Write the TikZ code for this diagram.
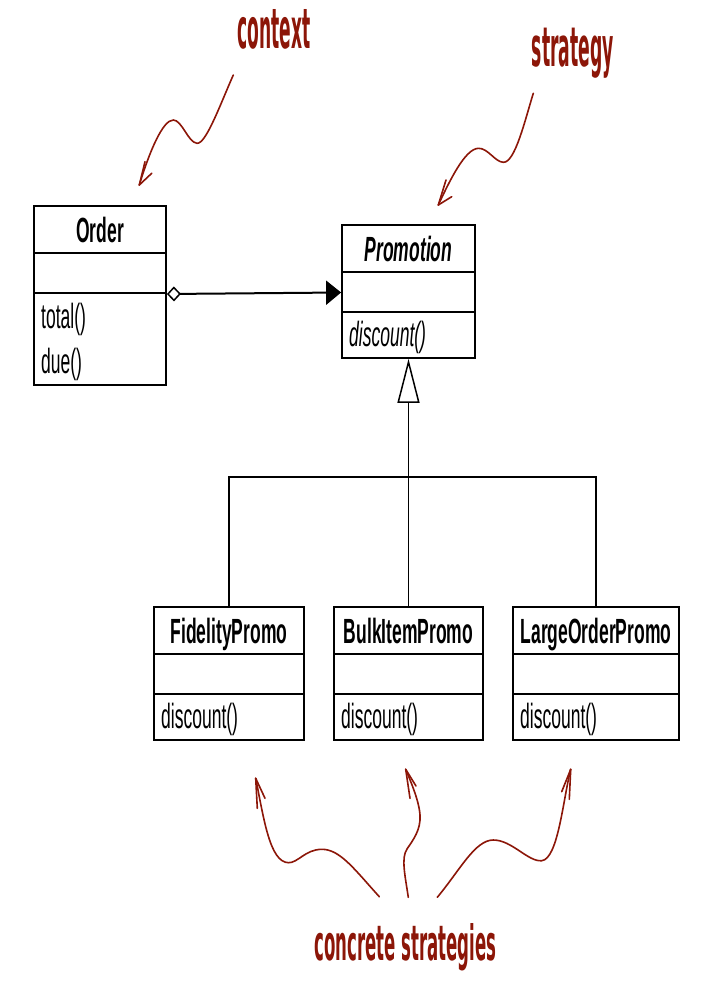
\documentclass[tikz,border=0pt]{standalone}
\usepackage{fontspec}
\setmainfont{Liberation Sans}
\newfontfamily\umlfont[FakeStretch=0.5]{Liberation Sans}
\newfontfamily\handfont{DejaVu Sans}
\usetikzlibrary{arrows.meta,fit}
\definecolor{handred}{RGB}{140,22,8}
\tikzset{
  classbox/.style={draw, line width=1.8pt, inner sep=0pt},
  divider/.style={line width=1.8pt},
  umltitle/.style={anchor=base, inner sep=0pt, font=\umlfont\fontsize{35}{40}\selectfont\bfseries},
  umlmeth/.style={anchor=base west, inner sep=0pt, font=\umlfont\fontsize{35}{40}\selectfont},
  note/.style={anchor=base west, inner sep=0pt, text=handred},
  squiggle/.style={draw=handred, line width=1.6pt, line cap=round, line join=round},
  assoc/.style={line width=2pt, {Diamond[open, length=14pt, width=15pt, line width=1.5pt]}-{Triangle[length=15pt, width=24pt]}},
  genline/.style={line width=1.2pt, -{Triangle[open, length=44pt, width=22pt, line width=1.5pt]}},
  busline/.style={line width=2pt},
  branch/.style={line width=1.2pt},
}
\newcommand\umlclass[8]{%
  \coordinate (#1-nw) at (#2,#3);
  \coordinate (#1-se) at (#4,#7);
  \node[classbox, fit=(#1-nw)(#1-se)] (#1) {};
  \draw[divider] (#2,#5) -- (#4,#5);
  \draw[divider] (#2,#6) -- (#4,#6);
  \node[umltitle] (#1-title) at ({(#2+#4)/2},{(#3+#5)/2+12.5}) {#8};
}
\begin{document}
\begin{tikzpicture}[x=1pt,y=-1pt]
\fill[white] (0,0) rectangle (715,982);
\useasboundingbox (0,0) rectangle (715,982);

% classes
\umlclass{order}{34}{206}{166}{253}{293}{385}{Order}
\node[umlmeth] (order-m1) at (41,328.3) {total()};
\node[umlmeth] (order-m2) at (41,373.3) {due()};

\umlclass{promotion}{342}{225}{475}{272}{312}{358}{\itshape Promotion}
\node[umlmeth] (promotion-m1) at (349,346.7) {\itshape discount()};

\umlclass{fidelity}{154}{607}{304}{654}{694}{740}{FidelityPromo}
\node[umlmeth] (fidelity-m1) at (161,728.5) {discount()};

\umlclass{bulk}{334}{607}{483}{654}{694}{740}{BulkItemPromo}
\node[umlmeth] (bulk-m1) at (341,728.5) {discount()};

\umlclass{large}{513}{607}{679}{654}{694}{740}{LargeOrderPromo}
\node[umlmeth] (large-m1) at (520,728.5) {discount()};

% association
\draw[assoc] ([yshift=1.5pt]order.east) -- ([yshift=-1pt]promotion.west);

% generalization
\coordinate (busmid) at (408.5,477);
\coordinate (busL) at (229,477);
\coordinate (busR) at (596,477);
\draw[genline] (busmid) -- (promotion.south);
\draw[busline] ([xshift=-1pt]busL) -- ([xshift=1pt]busR);
\draw[branch] (fidelity.north) -- (fidelity.north |- busL);
\draw[branch] (bulk.north) -- (bulk.north |- busL);
\draw[branch] (large.north) -- (large.north |- busL);

% handwritten notes
\node[note] (ctx) at (237.3,48.3) {\resizebox{73pt}{39pt}{\handfont\bfseries context}};
\node[note] (strat) at (531.7,66.7) {\resizebox{82pt}{38.4pt}{\handfont\bfseries strategy}};
\node[note] (conc) at (314,960) {\resizebox{182pt}{37pt}{\handfont\bfseries concrete strategies}};

% squiggly arrows
\coordinate (ctx-start) at (233.3,75);
\coordinate (ctx-tip) at (139.3,185);
\draw[squiggle] (ctx-start) .. controls (220,105) and (206,144) .. (197,143.3)
  .. controls (188,142.5) and (182,120) .. (173.3,120)
  .. controls (163,120) and (150,150) .. (ctx-tip);
\draw[squiggle] (ctx-tip) -- (145,161.7);
\draw[squiggle] (ctx-tip) -- (151.7,173.3);

\coordinate (str-start) at (533.3,93.3);
\coordinate (str-tip) at (438.3,205);
\draw[squiggle] (str-start) .. controls (525,120) and (515,163) .. (503.3,162.3)
  .. controls (495,162) and (488,148) .. (478.3,148.3)
  .. controls (465,149) and (450,180) .. (str-tip);
\draw[squiggle] (str-tip) -- (446,180);
\draw[squiggle] (str-tip) -- (451.7,196.7);

\coordinate (c1-start) at (379.3,896.7);
\coordinate (c1-tip) at (255.7,778.3);
\draw[squiggle] (c1-start) .. controls (355,870) and (340,849) .. (321.7,849.3)
  .. controls (305,849.5) and (298,863) .. (288.3,862.7)
  .. controls (270,862) and (264,820) .. (c1-tip);
\draw[squiggle] (c1-tip) -- (257.3,808.3);
\draw[squiggle] (c1-tip) -- (265,798.3);

\coordinate (c2-start) at (408.3,897.3);
\coordinate (c2-tip) at (405.7,769.3);
\draw[squiggle] (c2-start) .. controls (405,875) and (401,858) .. (407,849)
  .. controls (413,840) and (421,830) .. (420,815)
  .. controls (419,800) and (410,780) .. (c2-tip);
\draw[squiggle] (c2-tip) -- (410,798.3);
\draw[squiggle] (c2-tip) -- (416,786);

\coordinate (c3-start) at (437.3,897.3);
\coordinate (c3-tip) at (570.7,769.3);
\draw[squiggle] (c3-start) .. controls (460,870) and (475,840) .. (493.3,840)
  .. controls (512,840) and (528,862) .. (541.7,860.7)
  .. controls (558,859) and (563,800) .. (c3-tip);
\draw[squiggle] (c3-tip) -- (561.7,791.7);
\draw[squiggle] (c3-tip) -- (569.3,799.3);
\end{tikzpicture}
\end{document}
